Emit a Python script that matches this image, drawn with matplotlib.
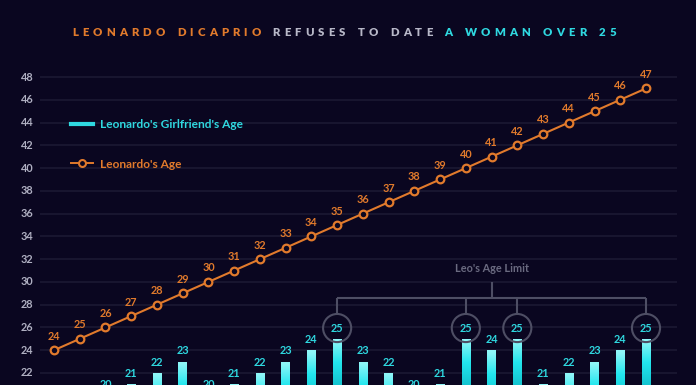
import numpy as np
import matplotlib.pyplot as plt
from matplotlib.lines import Line2D
from matplotlib.colors import LinearSegmentedColormap

# data
leo_age = [24, 25, 26, 27, 28, 29, 30, 31, 32, 33, 34, 35,
           36, 37, 38, 39, 40, 41, 42, 43, 44, 45, 46, 47]
gf_age = [18, 19, 20, 21, 22, 23, 20, 21, 22, 23, 24, 25,
          23, 22, 20, 21, 25, 24, 25, 21, 22, 23, 24, 25]
y_ticks = [22, 24, 26, 28, 30, 32, 34, 36, 38, 40, 42, 44, 46, 48]
age_limit = 25

BG = '#0a0620'
GRID = '#1c1933'
ORANGE = '#e17a2c'
CYAN = '#2fd8e0'
GREY = '#4e4e64'
TICK = '#b0b0c2'

plt.rcParams['font.family'] = ['Lato', 'DejaVu Sans']
plt.rcParams['font.weight'] = 'bold'

fig = plt.figure(figsize=(6.96, 3.85), dpi=100, facecolor=BG)
ax = fig.add_axes([0, 0, 1, 1], facecolor=BG)
ax.axis('off')

x = np.arange(len(leo_age))
px_x = 25.74   # pixels per category
px_y = 11.38   # pixels per year
xlim = (-54 / px_x, len(x) - 1 + 50 / px_x)
ylim = (22 - 12 / px_y, 48 + 77 / px_y)

# grid + tick labels
ax.hlines(y_ticks, xlim[0] + 40 / px_x, xlim[0] + 677 / px_x, color=GRID, lw=1.2, zorder=0)
for t in y_ticks:
    ax.text(xlim[0] + 27 / px_x, t, str(t), color=TICK, fontsize=7.8, ha='center', va='center')

# girlfriend bars with gradient
cmap = LinearSegmentedColormap.from_list('gf', ['#0a8e9e', '#14c4d0', '#22e6ee', '#8ff6f8'])
bars = ax.bar(x, gf_age, width=0.33, color='none', edgecolor='none', zorder=2)
for rect, v in zip(bars, gf_age):
    grad = np.linspace(0, 1, 200).reshape(-1, 1)
    grad = np.clip(grad * 1.03, 0, 1)
    im = ax.imshow(grad, cmap=cmap, origin='lower', aspect='auto', zorder=2,
                   extent=(rect.get_x(), rect.get_x() + rect.get_width(), v - 6, v))
    im.set_clip_path(rect)
for i, v in zip(x, gf_age):
    if v + 0.95 > ylim[0] - 0.5:
        ax.text(i, v + 0.95, str(v), color=CYAN, fontsize=7.8, ha='center', va='center', zorder=4)

# age limit circles + bracket
lim_idx = [i for i, v in zip(x, gf_age) if v == age_limit]
ax.scatter(lim_idx, [age_limit + 0.95] * len(lim_idx), s=410, facecolor='none',
           edgecolor=GREY, lw=1.5, zorder=3)
br_y = age_limit + 3.59
ax.hlines(br_y, min(lim_idx), max(lim_idx), color=GREY, lw=1.5)
ax.vlines(lim_idx, age_limit + 2.18, br_y, color=GREY, lw=1.5)
mid = (min(lim_idx) + max(lim_idx)) / 2
ax.vlines(mid, br_y, br_y + 1.4, color=GREY, lw=1.5)
ax.text(mid, br_y + 2.6, "Leo's Age Limit", color='#6a6a80', fontsize=7.8,
        ha='center', va='center')

# leo line
ax.plot(x, leo_age, color=ORANGE, lw=1.5, marker='o', ms=5.5, mfc=BG, mec=ORANGE,
        mew=1.6, zorder=5)
for i, v in zip(x, leo_age):
    ax.text(i, v + 1.23, str(v), color=ORANGE, fontsize=7.8, ha='center', va='center')

ax.set_xlim(*xlim)
ax.set_ylim(*ylim)

# legend
handles = [Line2D([], [], color=CYAN, lw=3),
           Line2D([], [], color=ORANGE, lw=1.4, marker='o', ms=5, mfc=BG, mec=ORANGE, mew=1.5)]
leg = fig.legend(handles, ["Leonardo's Girlfriend's Age", "Leonardo's Age"],
                 loc='upper left', bbox_to_anchor=(71 / 696, 1 - 119 / 385),
                 frameon=False, fontsize=8.6, labelspacing=2.4, handlelength=1.85,
                 handletextpad=0.55, borderpad=0, borderaxespad=0)
leg.get_texts()[0].set_color(CYAN)
leg.get_texts()[1].set_color(ORANGE)

# title with letter spacing
segments = [("LEONARDO DICAPRIO", ORANGE), ("REFUSES TO DATE", '#b8b8c8'),
            ("A WOMAN OVER 25", CYAN)]
renderer = fig.canvas.get_renderer()
track = 4.1
space = 4.0
title_fs = 8.2

def measure(ch):
    t = fig.text(0, 0, ch, fontsize=title_fs, fontweight='heavy')
    w = t.get_window_extent(renderer).width
    t.remove()
    return w

chars = []
for k, (seg, col) in enumerate(segments):
    for ch in seg:
        chars.append((ch, col))
    if k < len(segments) - 1:
        chars.append((' ', None))
widths = [space + track if ch == ' ' else measure(ch) + track for ch, _ in chars]
total = sum(widths) - track
xpos = 344 - total / 2
for (ch, col), w in zip(chars, widths):
    if ch != ' ':
        fig.text(xpos / 696, 1 - 32 / 385, ch, fontsize=title_fs, fontweight='heavy',
                 color=col, ha='left', va='center')
    xpos += w

fig.savefig('out.png', dpi=100, facecolor=BG)
